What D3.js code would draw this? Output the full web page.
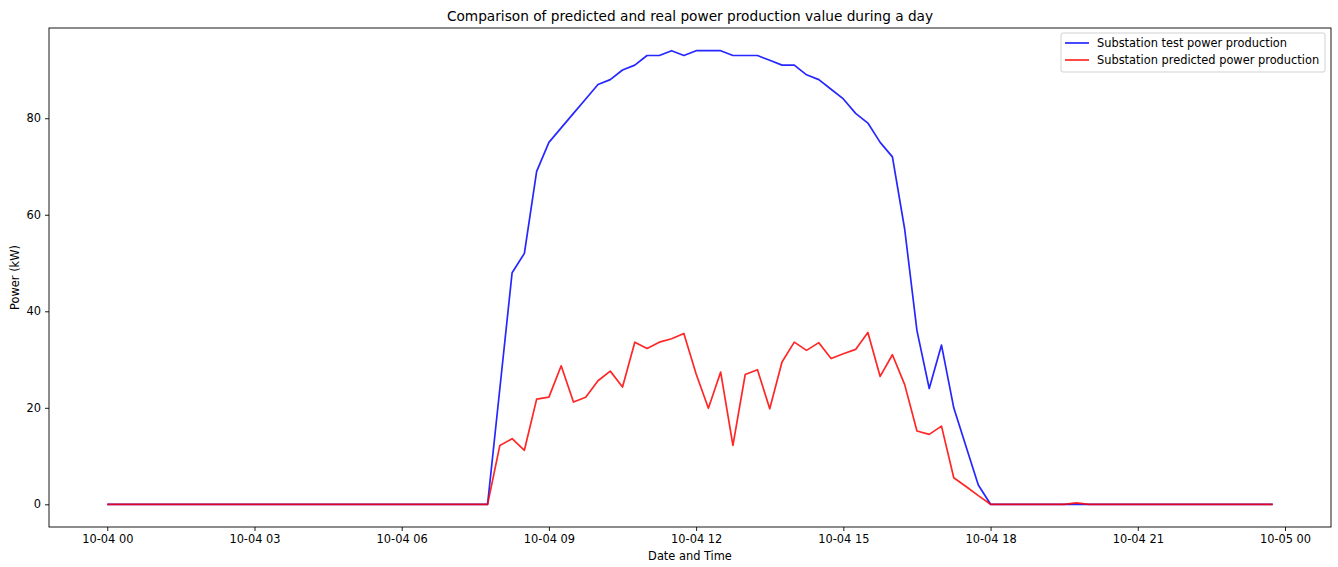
<!DOCTYPE html>
<html>
<head>
<meta charset="utf-8">
<script src="https://cdn.jsdelivr.net/npm/d3@7"></script>
<style>
  body { margin: 0; background: #fff; }
  svg text { font-family: "DejaVu Sans", sans-serif; fill: #000; }
</style>
</head>
<body>
<svg id="chart" width="1338" height="567"></svg>
<script>
// ---- data (15-minute samples, 10-04 00:00 .. 23:45) ----
const startTime = "2021-10-04T00:00:00Z";
const stepMinutes = 15;
const testPower = [
  0,0,0,0,0,0,0,0,0,0,0,0,0,0,0,0,0,0,0,0,0,0,0,0,0,0,0,0,0,0,0,0,
  24,48,52,69,75,78,81,84,87,88,90,91,93,93,94,93,
  94,94,94,93,93,93,92,91,91,89,88,86,84,81,79,75,
  72,57,36,24,33,20,12,4,0,0,0,0,0,0,0,0,
  0,0,0,0,0,0,0,0,0,0,0,0,0,0,0,0
];
const predictedPower = [
  0,0,0,0,0,0,0,0,0,0,0,0,0,0,0,0,0,0,0,0,0,0,0,0,0,0,0,0,0,0,0,0,
  12.2,13.6,11.2,21.8,22.2,28.7,21.2,22.2,25.6,27.6,24.3,33.6,32.3,33.6,34.3,35.4,
  27.0,19.9,27.4,12.2,26.9,27.9,19.8,29.5,33.6,31.9,33.5,30.2,31.2,32.1,35.6,26.5,
  31.0,24.8,15.2,14.5,16.2,5.5,3.7,1.8,0,0,0,0,0,0,0,0.3,
  0,0,0,0,0,0,0,0,0,0,0,0,0,0,0,0
];
const xTickLabels = ["10-04 00","10-04 03","10-04 06","10-04 09","10-04 12","10-04 15","10-04 18","10-04 21","10-05 00"];
const yTickValues = [0,20,40,60,80];
const seriesNames = ["Substation test power production","Substation predicted power production"];
const titleText = "Comparison of predicted and real power production value during a day";
const xLabel = "Date and Time";
const yLabel = "Power (kW)";

// ---- layout ----
const svg = d3.select("#chart");
const plot = {left: 49, right: 1331, top: 28, bottom: 527};
const fs = 11.4, fsTitle = 13.7;

const t0 = new Date(startTime);
const times = testPower.map((_, i) => new Date(t0.getTime() + i * stepMinutes * 60000));
const tMin = times[0], tMax = times[times.length - 1];
const tSpan = tMax - tMin;
const x = d3.scaleUtc()
  .domain([new Date(+tMin - tSpan * 0.05), new Date(+tMax + tSpan * 0.05)])
  .range([plot.left, plot.right]);

const yMax = d3.max(testPower.concat(predictedPower));
const yMin = 0;
const ySpan = yMax - yMin;
const y = d3.scaleLinear()
  .domain([yMin - ySpan * 0.05, yMax + ySpan * 0.05])
  .range([plot.bottom, plot.top]);

const xTickValues = xTickLabels.map((_, i) => new Date(t0.getTime() + i * 3 * 3600000));

// axes
const xAxis = svg.append("g")
  .attr("transform", `translate(0,${plot.bottom})`)
  .call(d3.axisBottom(x).tickValues(xTickValues).tickFormat((d, i) => xTickLabels[i]).tickSizeOuter(0).tickSize(4).tickPadding(4));
const yAxis = svg.append("g")
  .attr("transform", `translate(${plot.left},0)`)
  .call(d3.axisLeft(y).tickValues(yTickValues).tickFormat(d3.format("d")).tickSizeOuter(0).tickSize(4).tickPadding(4));
[xAxis, yAxis].forEach(g => {
  g.select(".domain").remove();
  g.selectAll(".tick line").attr("stroke", "#000").attr("stroke-width", 0.9);
  g.selectAll(".tick text").attr("font-size", fs).attr("font-family", "DejaVu Sans").attr("fill", "#000");
});

// lines
const line = d3.line().x((d, i) => x(times[i])).y(d => y(d));
svg.append("clipPath").attr("id", "clip").append("rect")
  .attr("x", plot.left).attr("y", plot.top)
  .attr("width", plot.right - plot.left).attr("height", plot.bottom - plot.top);
const lines = svg.append("g").attr("clip-path", "url(#clip)");
lines.append("path").datum(testPower)
  .attr("d", line).attr("fill", "none").attr("stroke", "blue")
  .attr("stroke-opacity", 0.85).attr("stroke-width", 1.7).attr("stroke-linejoin", "round");
lines.append("path").datum(predictedPower)
  .attr("d", line).attr("fill", "none").attr("stroke", "red")
  .attr("stroke-opacity", 0.85).attr("stroke-width", 1.7).attr("stroke-linejoin", "round");

// frame
svg.append("rect")
  .attr("x", plot.left).attr("y", plot.top)
  .attr("width", plot.right - plot.left).attr("height", plot.bottom - plot.top)
  .attr("fill", "none").attr("stroke", "#000").attr("stroke-width", 0.9);

// title & labels
svg.append("text").attr("x", (plot.left + plot.right) / 2).attr("y", 21)
  .attr("text-anchor", "middle").attr("font-size", fsTitle).text(titleText);
svg.append("text").attr("x", (plot.left + plot.right) / 2).attr("y", 560)
  .attr("text-anchor", "middle").attr("font-size", fs).text(xLabel);
svg.append("text").attr("transform", `translate(19,${(plot.top + plot.bottom) / 2}) rotate(-90)`)
  .attr("text-anchor", "middle").attr("font-size", fs).text(yLabel);

// legend
const lg = svg.append("g").attr("transform", "translate(1061,33)");
lg.append("rect").attr("width", 264).attr("height", 39).attr("rx", 2)
  .attr("fill", "#fff").attr("fill-opacity", 0.8).attr("stroke", "#ccc").attr("stroke-width", 0.9);
const legendColors = ["blue", "red"];
seriesNames.forEach((name, i) => {
  const gy = 10 + i * 17;
  lg.append("line").attr("x1", 4).attr("x2", 28).attr("y1", gy).attr("y2", gy)
    .attr("stroke", legendColors[i]).attr("stroke-opacity", 0.85).attr("stroke-width", 1.7);
  lg.append("text").attr("x", 36).attr("y", gy + 4).attr("font-size", fs).text(name);
});
</script>
</body>
</html>
